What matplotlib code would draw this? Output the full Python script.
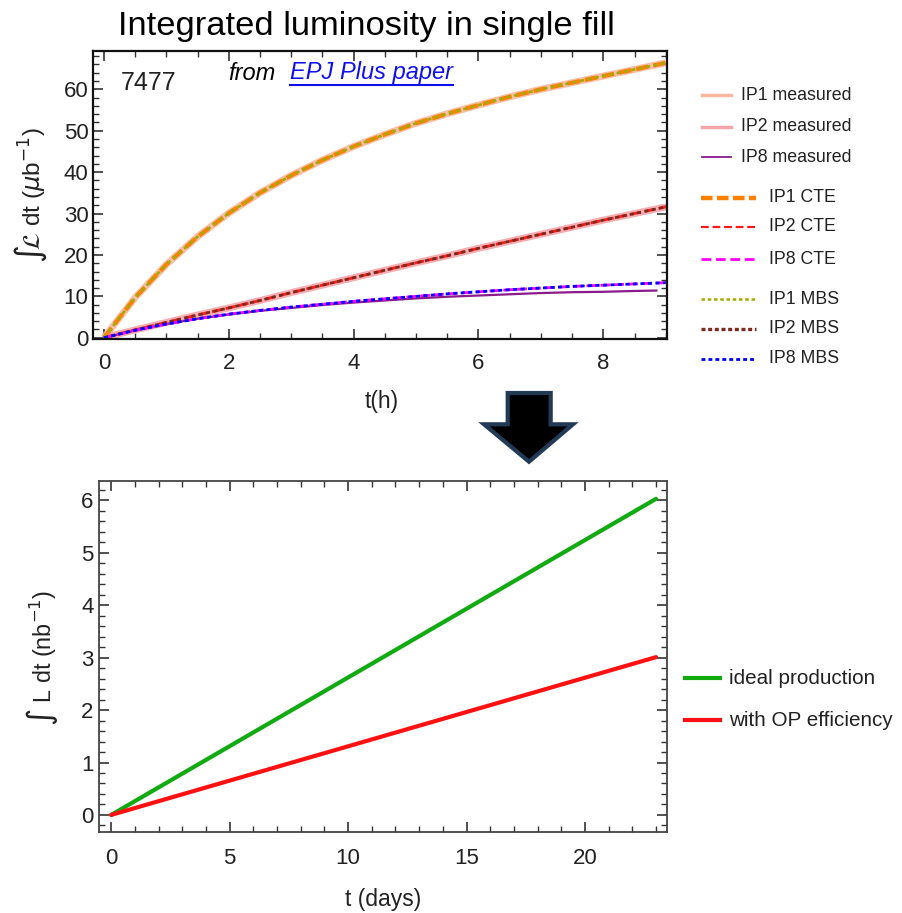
import matplotlib
matplotlib.use("Agg")
import matplotlib.pyplot as plt
from matplotlib.lines import Line2D
from matplotlib.patches import Polygon
from matplotlib.ticker import MultipleLocator

plt.rcParams['font.family'] = ['Liberation Sans', 'DejaVu Sans']
plt.rcParams['mathtext.fontset'] = 'dejavusans'

# ---- data: single fill (hours) ----
t_h = [0, 0.5, 1, 1.5, 2, 2.5, 3, 3.5, 4, 4.5, 5, 5.5, 6, 6.5, 7, 7.5, 8, 8.5, 9]
ip1_meas = [0, 9.7, 17.7, 24.4, 30.1, 35.0, 39.2, 42.9, 46.2, 49.1, 51.8, 54.1, 56.2, 58.2, 60.0, 61.6, 63.2, 64.8, 66.4]
ip2_meas = [0, 1.9, 3.7, 5.5, 7.2, 9.0, 10.9, 12.7, 14.5, 16.3, 18.1, 19.8, 21.6, 23.3, 25.0, 26.7, 28.4, 30.0, 31.6]
t_ip8_meas = [0, 0.5, 1, 1.5, 2, 2.5, 3, 3.5, 4, 4.5, 5, 5.5, 6, 6.5, 7, 7.5, 8, 8.5, 8.85]
ip8_meas = [0, 1.8, 3.3, 4.6, 5.6, 6.5, 7.2, 7.9, 8.5, 9.0, 9.5, 9.9, 10.2, 10.5, 10.8, 11.0, 11.1, 11.3, 11.4]
ip1_cte = [0, 9.7, 17.7, 24.4, 30.1, 35.0, 39.2, 42.9, 46.2, 49.1, 51.8, 54.1, 56.2, 58.2, 60.0, 61.6, 63.2, 64.8, 66.4]
ip2_cte = [0, 1.9, 3.7, 5.5, 7.2, 9.0, 10.9, 12.7, 14.5, 16.3, 18.1, 19.8, 21.6, 23.3, 25.0, 26.7, 28.4, 30.0, 31.6]
ip8_cte = [0, 1.8, 3.3, 4.6, 5.7, 6.6, 7.4, 8.1, 8.8, 9.4, 10.0, 10.6, 11.1, 11.6, 12.0, 12.4, 12.7, 13.0, 13.3]
ip1_mbs = [0, 9.7, 17.7, 24.4, 30.1, 35.0, 39.2, 42.9, 46.2, 49.1, 51.8, 54.1, 56.2, 58.2, 60.0, 61.6, 63.2, 64.8, 66.4]
ip2_mbs = [0, 1.9, 3.7, 5.5, 7.2, 9.0, 10.9, 12.7, 14.5, 16.3, 18.1, 19.8, 21.6, 23.3, 25.0, 26.7, 28.4, 30.0, 31.6]
ip8_mbs = [0, 1.8, 3.3, 4.6, 5.7, 6.6, 7.4, 8.1, 8.8, 9.4, 10.0, 10.6, 11.1, 11.6, 12.0, 12.4, 12.7, 13.0, 13.3]

# ---- data: production (days) ----
t_days = [0, 23]
ideal_prod = [0, 6.03]
op_eff_prod = [0, 3.01]

W, H = 902, 913
fig = plt.figure(figsize=(W / 100, H / 100), dpi=100)


def fx(px):
    return px / W


def fy(py):
    return 1 - py / H


def style_axes(ax, lw, color):
    for s in ax.spines.values():
        s.set_linewidth(lw)
        s.set_color(color)
    ax.tick_params(which='both', direction='in', top=True, right=True, color='#333333')
    ax.tick_params(which='major', length=7, width=1.2)
    ax.tick_params(which='minor', length=4, width=1.0)


# ---------------- top axes ----------------
ax1 = fig.add_axes([fx(92.7), fy(339), fx(667) - fx(92.7), fy(51) - fy(339)])
ax1.plot(t_h, ip1_meas, color='#f8b8a0', lw=5, alpha=0.9, solid_capstyle='butt')
ax1.plot(t_h, ip2_meas, color='#f5a5aa', lw=5, alpha=0.9, solid_capstyle='butt')
ax1.plot(t_ip8_meas, ip8_meas, color='#8b1a8b', lw=1.6)
ax1.plot(t_h, ip1_cte, color='#ff8000', lw=3, dashes=(3, 1.2))
ax1.plot(t_h, ip2_cte, color='#ff1a1a', lw=2, dashes=(3.5, 1.5))
ax1.plot(t_h, ip8_cte, color='#ff00ff', lw=2, dashes=(3.5, 1.5))
ax1.plot(t_h, ip1_mbs, color='#a8a800', lw=2, dashes=(1.5, 1.2))
ax1.plot(t_h, ip2_mbs, color='#7a2a1e', lw=2, dashes=(1.5, 1.2))
ax1.plot(t_h, ip8_mbs, color='#0000ff', lw=2, dashes=(1.5, 1.2))
ax1.set_xlim(-0.18, 9.02)
ax1.set_ylim(-0.3, 69.25)
ax1.xaxis.set_major_locator(MultipleLocator(2))
ax1.xaxis.set_minor_locator(MultipleLocator(0.5))
ax1.yaxis.set_major_locator(MultipleLocator(10))
ax1.yaxis.set_minor_locator(MultipleLocator(2))
style_axes(ax1, 1.6, '#111111')
ax1.tick_params(axis='x', which='major', labelsize=16, pad=10, labelcolor='#222222')
ax1.tick_params(axis='y', which='major', labelsize=16, pad=3, labelcolor='#222222')
ax1.text(0.27, 61.6, '7477', fontsize=18, color='#222222', va='center', ha='left')

fig.text(fx(31), fy(195), r'$\int\!\mathcal{L}$ dt ($\mu$b$^{-1}$)', rotation=90,
         fontsize=17.5, color='#222222', ha='center', va='center')
fig.text(fx(382), fy(401), 't(h)', fontsize=16.5, color='#222222', ha='center', va='center')

# title
fig.text(fx(366), fy(26), 'Integrated luminosity in single fill',
         family=['Liberation Sans'], fontsize=24.8,
         ha='center', va='center', color='black')

# "from EPJ Plus paper"
fig.text(fx(228), fy(73), 'from', fontsize=17, style='italic', ha='left', va='center', color='black')
link = fig.text(fx(290), fy(73), 'EPJ Plus paper', fontsize=17, style='italic',
                ha='left', va='center', color='#1010ee')

# top legend (manual)
meas_entries = [('IP1 measured', '#f8b8a0', 2.5, 95), ('IP2 measured', '#f5a5aa', 2.5, 126.7),
                ('IP8 measured', '#8b1a8b', 1.3, 157.3)]
for lab, c, lw, y in meas_entries:
    fig.add_artist(Line2D([fx(701.7), fx(730.7)], [fy(y), fy(y)], color=c, lw=lw))
    fig.text(fx(741), fy(y), lab, fontsize=12.8, color='#222222', ha='left', va='center')
cte_entries = [('IP1 CTE', '#ff8000', 3.2, (2.6, 1.0), 197.7), ('IP2 CTE', '#ff1a1a', 1.6, (3.5, 1.7), 226.7),
               ('IP8 CTE', '#ff00ff', 2.0, (3.5, 1.7), 259.3),
               ('IP1 MBS', '#a8a800', 1.8, (1.4, 1.1), 299.3), ('IP2 MBS', '#7a2a1e', 2.4, (1.2, 0.8), 328.7),
               ('IP8 MBS', '#0000ff', 2.0, (1.4, 1.1), 358.7)]
for lab, c, lw, ds, y in cte_entries:
    fig.add_artist(Line2D([fx(700.7), fx(756)], [fy(y), fy(y)], color=c, lw=lw, dashes=ds))
    fig.text(fx(769), fy(y), lab, fontsize=12.8, color='#222222', ha='left', va='center')

# arrow
arrow_pts = [(507.7, 393), (550.7, 393), (550.7, 424.3), (573, 424.3), (529, 461.7),
             (484, 424.3), (507.7, 424.3)]
fig.add_artist(Polygon([(fx(x), fy(y)) for x, y in arrow_pts], closed=True,
                       facecolor='black', edgecolor='#233a56', lw=3, transform=fig.transFigure))

# ---------------- bottom axes ----------------
ax2 = fig.add_axes([fx(99.3), fy(831.7), fx(666.7) - fx(99.3), fy(481) - fy(831.7)])
ax2.plot(t_days, ideal_prod, color='#11aa11', lw=3, solid_capstyle='round', label='ideal production')
ax2.plot(t_days, op_eff_prod, color='#ff1111', lw=3, solid_capstyle='round', label='with OP efficiency')
ax2.set_xlim(-0.5, 23.45)
ax2.set_ylim(-0.32, 6.37)
ax2.xaxis.set_major_locator(MultipleLocator(5))
ax2.xaxis.set_minor_locator(MultipleLocator(1))
ax2.yaxis.set_major_locator(MultipleLocator(1))
ax2.yaxis.set_minor_locator(MultipleLocator(0.2))
style_axes(ax2, 1.3, '#444444')
ax2.tick_params(axis='x', which='major', labelsize=16, pad=12, labelcolor='#222222')
ax2.tick_params(axis='y', which='major', labelsize=16, pad=4, labelcolor='#222222')

fig.text(fx(42), fy(658), r'$\int$ L dt (nb$^{-1}$)', rotation=90,
         fontsize=16.8, color='#222222', ha='center', va='center')
fig.text(fx(383), fy(899), 't (days)', fontsize=16.5, color='#222222', ha='center', va='center')

for lab, c, y in [('ideal production', '#11aa11', 678), ('with OP efficiency', '#ff1111', 720)]:
    fig.add_artist(Line2D([fx(685), fx(720)], [fy(y), fy(y)], color=c, lw=3))
    fig.text(fx(729), fy(y), lab, fontsize=14.9, color='#222222', ha='left', va='center')

# underline for link
fig.canvas.draw()
bb = link.get_window_extent(renderer=fig.canvas.get_renderer())
fig.add_artist(Line2D([bb.x0 / W, bb.x1 / W], [(bb.y0 - 1) / H, (bb.y0 - 1) / H],
                      color='#1010ee', lw=1.5))

fig.savefig('out.png', dpi=100)
